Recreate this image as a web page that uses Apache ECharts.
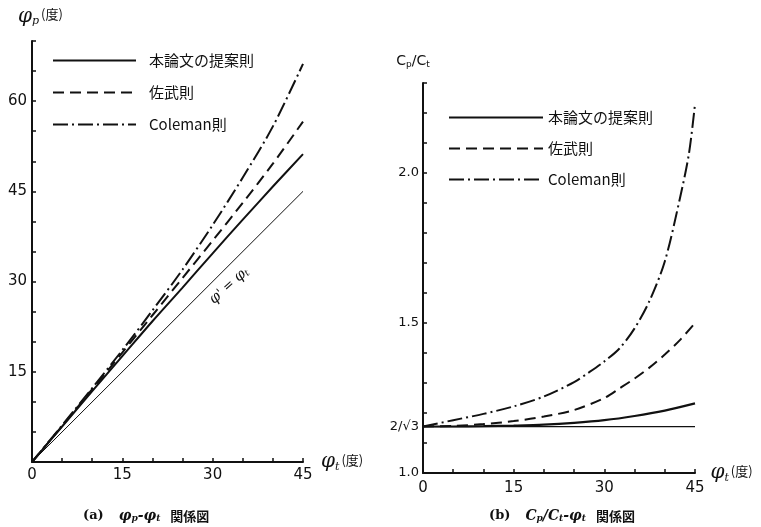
<!DOCTYPE html>
<html>
<head>
<meta charset="utf-8">
<script src="https://cdn.jsdelivr.net/npm/echarts@6/dist/echarts.min.js"></script>
<style>html,body{margin:0;padding:0;background:#fff}#c{width:761px;height:527px}</style>
</head>
<body>
<div id="c"></div>
<script>
// ---- data ----
const phiT = [0, 5, 10, 15, 20, 25, 30, 35, 40, 45];
const seriesNames = ['本論文の提案則', '佐武則', 'Coleman則'];
// (a) phi_p vs phi_t
const phiP_proposed = [0, 5.9, 11.8, 17.6, 23.4, 29.0, 34.7, 40.3, 45.8, 51.2];
const phiP_sataku   = [0, 6.0, 12.1, 18.2, 24.4, 30.6, 36.8, 43.1, 49.6, 56.6];
const phiP_coleman  = [0, 6.1, 12.3, 18.6, 25.2, 32.0, 39.4, 47.3, 55.8, 66.2];
const refLineX = [0, 45];
const refLineY = [0, 45];
// (b) Cp/Ct vs phi_t
const ratio_proposed = [1.155, 1.155, 1.156, 1.158, 1.161, 1.167, 1.176, 1.190, 1.208, 1.232];
const satakuX        = [0, 5, 10, 15, 20, 25, 30, 32.5, 35, 37.5, 40, 42.5, 45];
const ratio_sataku   = [1.155, 1.157, 1.163, 1.173, 1.188, 1.210, 1.250, 1.282, 1.315, 1.352, 1.395, 1.443, 1.500];
const colemanX       = [0, 5, 10, 15, 20, 25, 27.5, 30, 32.5, 35, 37.5, 40, 42.5, 44, 45];
const ratio_coleman  = [1.155, 1.176, 1.197, 1.222, 1.255, 1.303, 1.336, 1.372, 1.415, 1.482, 1.575, 1.705, 1.915, 2.065, 2.230];
const twoOverRoot3 = 2 / Math.sqrt(3);
const ratioRefX = [0, 45];
const ratioRefY = [twoOverRoot3, twoOverRoot3];
// tick labels
const xLabels = [0, 15, 30, 45];
const yLabelsA = [15, 30, 45, 60];
const yLabelsB = [1.0, twoOverRoot3, 1.5, 2.0];
const yTicksB = [1.0, 1.1, 1.2, 1.3, 1.4, 1.5, 1.6, 1.7, 1.8, 1.9, 2.0, 2.1, 2.2, 2.3];

const zip = (xs, ys) => xs.map((x, i) => [x, ys[i]]);

const FONT = 'DejaVu Sans';
const CJK = 'Noto Sans CJK JP';
const black = '#111';
const dashA = [11, 6];
const dashDot = [15, 4, 2, 4];

function axisBase() {
  return {
    axisLine: { show: true, onZero: false, lineStyle: { color: black, width: 2 } },
    axisTick: { show: true, inside: true, length: 4, lineStyle: { color: black, width: 1.5 } },
    splitLine: { show: false },
  };
}

const phiName = () => ({
  phi: { fontFamily: 'DejaVu Serif', fontStyle: 'italic', fontSize: 20, color: black },
  sub: { fontFamily: 'DejaVu Serif', fontStyle: 'italic', fontSize: 11, color: black, padding: [10, 0, 0, 0] },
  deg: { fontFamily: CJK, fontSize: 13, color: black, padding: [0, 0, 4, 2] }
});

const captionRich = {
  a: { fontFamily: 'DejaVu Serif', fontWeight: 'bold', fontSize: 13, color: black },
  i: { fontFamily: 'DejaVu Serif', fontStyle: 'italic', fontSize: 14, color: black },
  s: { fontFamily: 'DejaVu Serif', fontStyle: 'italic', fontSize: 9, color: black, padding: [6, 0, 0, 0] },
  k: { fontFamily: CJK, fontSize: 13, color: black }
};

const lineSeries = (name, xi, xs, ys, width, type) => ({
  name, type: 'line', xAxisIndex: xi, yAxisIndex: xi, data: zip(xs, ys),
  smooth: 0.3, showSymbol: false, symbol: 'none',
  itemStyle: { color: black },
  lineStyle: { color: black, width, type }
});

const option = {
  backgroundColor: '#fff',
  animation: false,
  title: [
    { text: '{a|(a)}   {i|φ}{s|p}{i|-φ}{s|t}  {k|関係図}', left: 78, top: 502, textStyle: { rich: captionRich } },
    { text: '{a|(b)}   {i|C}{s|p}{i|/C}{s|t}{i|-φ}{s|t}  {k|関係図}', left: 484, top: 502, textStyle: { rich: captionRich } }
  ],
  legend: [
    {
      orient: 'vertical', left: 47, top: 48,
      itemWidth: 83, itemHeight: 14, itemGap: 17,
      data: seriesNames.map(n => ({ name: n })),
      itemStyle: { color: 'transparent', borderColor: 'transparent', borderWidth: 0 },
      textStyle: { fontFamily: CJK, fontSize: 15, color: black, padding: [0, 0, 0, 8] },
      selectedMode: false
    },
    {
      orient: 'vertical', left: 443, top: 105,
      itemWidth: 94, itemHeight: 14, itemGap: 16,
      data: seriesNames.map(n => ({ name: n })),
      itemStyle: { color: 'transparent', borderColor: 'transparent', borderWidth: 0 },
      textStyle: { fontFamily: CJK, fontSize: 15, color: black, padding: [0, 0, 0, 0] },
      selectedMode: false
    }
  ],
  grid: [
    { left: 32, top: 41, width: 271, height: 421 },
    { left: 423, top: 83, width: 272, height: 390 }
  ],
  xAxis: [
    Object.assign(axisBase(), {
      type: 'value', gridIndex: 0, min: 0, max: 45, interval: 5,
      name: '{phi|φ}{sub|t}{deg|(度)}', nameLocation: 'end', nameGap: 18,
      nameTextStyle: { align: 'left', verticalAlign: 'middle', rich: phiName() },
      axisLabel: { color: black, fontFamily: FONT, fontSize: 15, margin: 6,
        customValues: xLabels, formatter: v => String(v) }
    }),
    Object.assign(axisBase(), {
      type: 'value', gridIndex: 1, min: 0, max: 45, interval: 5,
      name: '{phi|φ}{sub|t}{deg|(度)}', nameLocation: 'end', nameGap: 12,
      nameTextStyle: { align: 'left', verticalAlign: 'middle', rich: phiName() },
      axisLabel: { color: black, fontFamily: FONT, fontSize: 15, margin: 8,
        customValues: xLabels, formatter: v => String(v) }
    })
  ],
  yAxis: [
    Object.assign(axisBase(), {
      type: 'value', gridIndex: 0, min: 0, max: 70, interval: 5,
      name: '{phi|φ}{sub|p}{deg|(度)}', nameLocation: 'end', nameGap: 14,
      nameTextStyle: { align: 'left', verticalAlign: 'bottom', padding: [0, 0, 0, -14], rich: phiName() },
      axisLabel: { color: black, fontFamily: FONT, fontSize: 15, margin: 5,
        customValues: yLabelsA, formatter: v => String(v) }
    }),
    Object.assign(axisBase(), {
      type: 'value', gridIndex: 1, min: 1.0, max: 2.3,
      name: '{c|C}{s|p}{c|/C}{s|t}', nameLocation: 'end', nameGap: 14,
      nameTextStyle: { align: 'center', verticalAlign: 'bottom', padding: [0, 20, 0, 0], rich: {
        c: { fontFamily: FONT, fontSize: 14, color: black },
        s: { fontFamily: FONT, fontSize: 9, color: black, padding: [6, 0, 0, 0] }
      } },
      axisTick: { show: true, inside: true, length: 4, customValues: yTicksB, lineStyle: { color: black, width: 1.5 } },
      axisLabel: { color: black, fontFamily: FONT, fontSize: 13, margin: 4,
        customValues: yLabelsB,
        formatter: v => Math.abs(v - twoOverRoot3) < 1e-6 ? '2/√3' : v.toFixed(1) }
    })
  ],
  series: [
    // (a)
    lineSeries(seriesNames[0], 0, phiT, phiP_proposed, 2, 'solid'),
    lineSeries(seriesNames[1], 0, phiT, phiP_sataku, 2, dashA),
    lineSeries(seriesNames[2], 0, phiT, phiP_coleman, 2, dashDot),
    { name: 'ref-a', type: 'line', xAxisIndex: 0, yAxisIndex: 0, data: zip(refLineX, refLineY),
      showSymbol: false, symbol: 'none', silent: true, lineStyle: { color: black, width: 1 },
      markPoint: {
        symbol: 'circle', symbolSize: 1, silent: true,
        itemStyle: { color: 'rgba(0,0,0,0)' },
        data: [{ name: 'eq', coord: [32.7, 29.3] }],
        label: { show: true, position: 'inside', rotate: 42,
          formatter: "{p|φ}{q|'}{e| = }{p|φ}{s|t}",
          rich: {
            p: { fontFamily: 'DejaVu Serif', fontStyle: 'italic', fontSize: 15, color: black },
            q: { fontFamily: 'DejaVu Serif', fontSize: 13, color: black },
            e: { fontFamily: FONT, fontSize: 13, color: black },
            s: { fontFamily: 'DejaVu Serif', fontStyle: 'italic', fontSize: 9, color: black, padding: [6, 0, 0, 0] }
          } }
      } },
    // (b)
    lineSeries(seriesNames[0], 1, phiT, ratio_proposed, 2.2, 'solid'),
    lineSeries(seriesNames[1], 1, satakuX, ratio_sataku, 2, dashA),
    lineSeries(seriesNames[2], 1, colemanX, ratio_coleman, 2, dashDot),
    { name: 'ref-b', type: 'line', xAxisIndex: 1, yAxisIndex: 1, data: zip(ratioRefX, ratioRefY),
      showSymbol: false, symbol: 'none', silent: true, lineStyle: { color: black, width: 1.2 } }
  ]
};

const chart = echarts.init(document.getElementById('c'), null, { renderer: 'canvas' });
chart.setOption(option);
</script>
</body>
</html>
